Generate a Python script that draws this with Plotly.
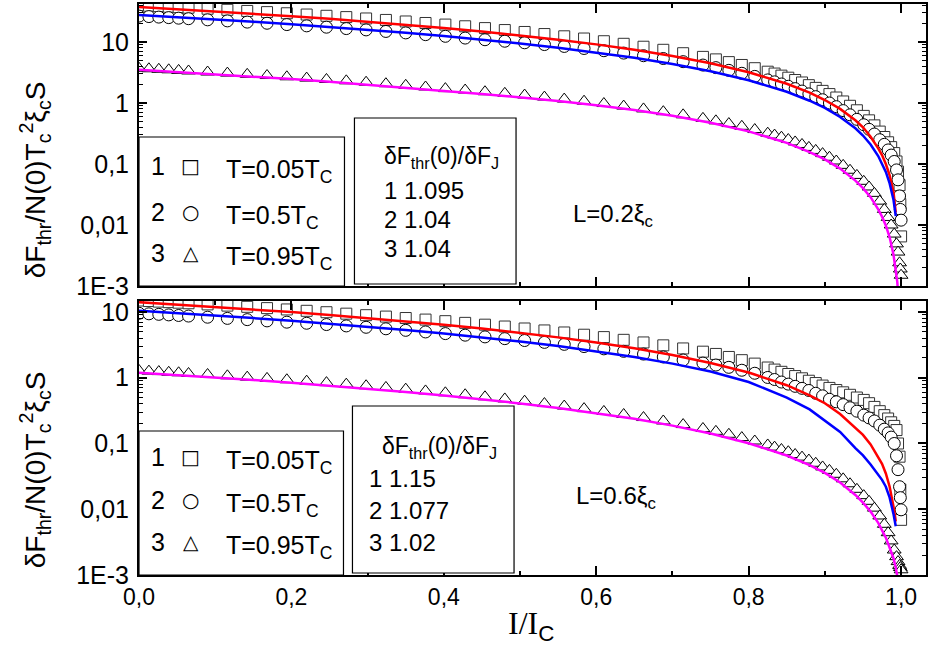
import plotly.graph_objects as go

# ---------------------------------------------------------------------------
# Threshold energy vs. reduced current, two bridge lengths (L = 0.2 and 0.6 xi_c)
# ---------------------------------------------------------------------------

# reduced current I/I_c of the computed points (same grid for all temperatures)
i_pts = [0, 0.013, 0.026, 0.039, 0.052, 0.065,
         0.09, 0.116, 0.142, 0.168, 0.194, 0.22, 0.246, 0.272, 0.298, 0.324,
         0.35, 0.376, 0.402, 0.428, 0.454, 0.48, 0.506, 0.532, 0.558, 0.584,
         0.61, 0.636, 0.662, 0.688, 0.714, 0.74,
         0.757, 0.774, 0.791, 0.808, 0.825,
         0.834, 0.843, 0.852, 0.861, 0.87, 0.879, 0.888, 0.897, 0.906, 0.915,
         0.924, 0.933, 0.942, 0.951, 0.958, 0.965, 0.972, 0.978, 0.983, 0.987,
         0.991, 0.994, 0.996, 0.998, 0.999, 1.0]

# L = 0.2 xi_c : computed threshold energies
sq_top = [40.1, 39.4, 38.7, 37.9, 37.2, 36.5,
          35.1, 33.7, 32.3, 30.9, 29.6, 28.2, 26.9, 25.6, 24.3, 23.0,
          21.7, 20.5, 19.3, 18.1, 16.9, 15.7, 14.6, 13.5, 12.4, 11.4,
          10.3, 9.34, 8.37, 7.45, 6.55, 5.70,
          5.19, 4.68, 4.20, 3.72, 3.26,
          3.04, 2.81, 2.60, 2.38, 2.17, 1.96, 1.77, 1.58, 1.40, 1.23,
          1.06, 0.90, 0.76, 0.615, 0.52, 0.43, 0.34, 0.277, 0.227, 0.189,
          0.151, 0.11, 0.075, 0.045, 0.022, 0.0065]
ci_top = [26.6, 26.1, 25.6, 25.1, 24.6, 24.1,
          23.1, 22.2, 21.2, 20.3, 19.3, 18.4, 17.5, 16.6, 15.8, 14.9,
          14.1, 13.2, 12.4, 11.6, 10.9, 10.3, 9.71, 9.08, 8.46, 7.83,
          7.2, 6.58, 5.96, 5.36, 4.76, 4.19,
          3.80, 3.43, 3.07, 2.73, 2.39,
          2.22, 2.05, 1.88, 1.72, 1.57, 1.41, 1.27, 1.13, 1.00, 0.87,
          0.75, 0.64, 0.54, 0.44, 0.37, 0.31, 0.25, 0.21, 0.17, 0.14,
          0.11, 0.08, 0.055, 0.03, 0.018, 0.012]
tr_top = [3.71, 3.64, 3.57, 3.50, 3.42, 3.35,
          3.22, 3.09, 2.95, 2.82, 2.69, 2.56, 2.43, 2.31, 2.19, 2.07,
          1.95, 1.83, 1.72, 1.63, 1.53, 1.44, 1.35, 1.25, 1.16, 1.07,
          0.98, 0.89, 0.80, 0.72, 0.64, 0.56,
          0.51, 0.46, 0.415, 0.367, 0.32,
          0.298, 0.275, 0.252, 0.23, 0.209, 0.187, 0.167, 0.148, 0.129, 0.112,
          0.095, 0.079, 0.065, 0.052, 0.042, 0.033, 0.0246, 0.018, 0.0133, 0.010,
          0.0071, 0.0049, 0.0036, 0.0024, 0.0019, 0.0015]

# L = 0.6 xi_c : computed threshold energies
sq_bot = [14.95, 14.67, 14.38, 14.11, 13.84, 13.57,
          13.04, 12.50, 11.98, 11.45, 10.93, 10.42, 9.92, 9.43, 8.94, 8.51,
          8.09, 7.66, 7.25, 6.83, 6.41, 6.01, 5.61, 5.24, 4.88, 4.51,
          4.15, 3.77, 3.44, 3.11, 2.79, 2.49,
          2.30, 2.07, 1.85, 1.64, 1.43,
          1.33, 1.23, 1.14, 1.06, 0.98, 0.90, 0.83, 0.76, 0.70, 0.65,
          0.60, 0.55, 0.50, 0.46, 0.41, 0.36, 0.31, 0.27, 0.24, 0.21,
          0.185, 0.16, 0.10, 0.063, 0.02, 0.0069]
ci_bot = [9.57, 9.38, 9.21, 9.03, 8.85, 8.67,
          8.33, 7.99, 7.65, 7.32, 7.0, 6.74, 6.44, 6.14, 5.85, 5.55,
          5.26, 4.97, 4.69, 4.44, 4.18, 3.93, 3.68, 3.45, 3.22, 2.98,
          2.75, 2.52, 2.29, 2.07, 1.86, 1.67,
          1.56, 1.44, 1.30, 1.17, 1.01,
          0.94, 0.86, 0.80, 0.74, 0.69, 0.64, 0.58, 0.53, 0.47, 0.43,
          0.39, 0.35, 0.31, 0.27, 0.245, 0.22, 0.19, 0.165, 0.145, 0.125,
          0.10, 0.065, 0.04, 0.022, 0.015, 0.0098]
tr_bot = [1.29, 1.26, 1.24, 1.21, 1.19, 1.16,
          1.12, 1.07, 1.02, 0.977, 0.932, 0.887, 0.843, 0.798, 0.755, 0.712,
          0.670, 0.630, 0.590, 0.551, 0.513, 0.476, 0.44, 0.405, 0.371, 0.339,
          0.307, 0.276, 0.248, 0.22, 0.194, 0.169,
          0.153, 0.138, 0.123, 0.109, 0.095,
          0.088, 0.081, 0.075, 0.068, 0.062, 0.056, 0.050, 0.044, 0.039, 0.034,
          0.029, 0.0244, 0.0201, 0.0161, 0.0132, 0.0104, 0.0079, 0.0059, 0.0044, 0.0033,
          0.0024, 0.0019, 0.0016, 0.0014, 0.0013, 0.0012]

# Josephson-type reference curves
i_line = [0, 0.05, 0.1, 0.15, 0.2, 0.25, 0.3, 0.35, 0.4, 0.45, 0.5, 0.55, 0.6,
          0.65, 0.7, 0.75, 0.8, 0.85, 0.88, 0.9, 0.92, 0.94, 0.95, 0.96, 0.97,
          0.975, 0.98, 0.985, 0.99, 0.993]
i_line_m = i_line + [0.995, 0.997, 0.999]

red_top = [37.5, 34.6, 31.8, 29.1, 26.5, 24.0, 21.5, 19.2, 17.0, 14.9, 12.8, 10.9,
           9.14, 7.46, 5.90, 4.48, 3.20, 2.07, 1.48, 1.12, 0.80, 0.52, 0.40, 0.28,
           0.18, 0.14, 0.10, 0.065, 0.035, 0.016]
blue_top = [27.7, 25.6, 23.5, 21.5, 19.6, 17.7, 15.9, 14.2, 12.5, 11.0, 9.49, 8.07,
            6.75, 5.51, 4.36, 3.31, 2.36, 1.53, 1.09, 0.83, 0.59, 0.385, 0.293, 0.209,
            0.135, 0.103, 0.074, 0.048, 0.026, 0.014]
mag_top = [3.5, 3.23, 2.97, 2.71, 2.47, 2.24, 2.01, 1.79, 1.58, 1.41, 1.25, 1.08,
           0.92, 0.766, 0.617, 0.476, 0.343, 0.222, 0.157, 0.119, 0.084, 0.0535,
           0.0403, 0.0286, 0.018, 0.0137, 0.0098, 0.0063, 0.0033, 0.0019,
           0.00117, 0.00054, 0.0001]

red_bot = [14.1, 13.0, 11.96, 10.94, 9.95, 9.01, 8.09, 7.22, 6.38, 5.59, 4.83, 4.11,
           3.43, 2.80, 2.22, 1.68, 1.20, 0.77, 0.54, 0.41, 0.28, 0.175, 0.135, 0.097,
           0.063, 0.049, 0.035, 0.022, 0.011, 0.0065]
blue_bot = [10.4, 9.6, 8.82, 8.07, 7.34, 6.64, 5.97, 5.33, 4.71, 4.12, 3.56, 3.03,
            2.53, 2.07, 1.64, 1.24, 0.86, 0.50, 0.33, 0.22, 0.15, 0.085, 0.066, 0.048,
            0.034, 0.028, 0.022, 0.015, 0.0085, 0.0055]
mag_bot = [1.19, 1.10, 1.01, 0.923, 0.84, 0.76, 0.683, 0.609, 0.539, 0.471, 0.407,
           0.347, 0.29, 0.237, 0.187, 0.142, 0.101, 0.0657, 0.0469, 0.0357, 0.0255,
           0.0165, 0.0126, 0.0092, 0.0062, 0.0049, 0.0037, 0.0026, 0.0018, 0.0013,
           0.001, 0.0007, 0.0003]

# legend / table text
temps = ["T=0.05T<sub>C</sub>", "T=0.5T<sub>C</sub>", "T=0.95T<sub>C</sub>"]
symbols = ["\u25a1", "\u25cb", "\u25b3"]
ratio_top = ["1 1.095", "2 1.04", "3 1.04"]
ratio_bot = ["1 1.15", "2 1.077", "3 1.02"]
y_ticks = [1e-3, 1e-2, 1e-1, 1, 10]
y_tick_text = ["1E-3", "0,01", "0,1", "1", "10"]

# ---------------------------------------------------------------------------
W, H = 929, 649
ML, MR, MT, MB = 139, 1, 4, 74
PW, PH = W - ML - MR, H - MT - MB
SANS = "Arial, Liberation Sans, sans-serif"
SERIF = "Times New Roman, Liberation Serif, serif"


def fx(x):
    return (x - ML) / PW


def fy(y):
    return (H - MB - y) / PH


fig = go.Figure()

marker_styles = [
    dict(symbol="square", size=11, color="white", line=dict(color="#333", width=1)),
    dict(symbol="circle", size=12, color="white", line=dict(color="black", width=1)),
    dict(symbol="triangle-up", size=12, color="white", line=dict(color="black", width=1)),
]
line_colors = ["#ff0000", "#0000ff", "#ff00ff"]

panels = [
    ("x", "y", [sq_top, ci_top, tr_top], [(i_line, red_top), (i_line, blue_top), (i_line_m, mag_top)]),
    ("x2", "y2", [sq_bot, ci_bot, tr_bot], [(i_line, red_bot), (i_line, blue_bot), (i_line_m, mag_bot)]),
]
for xa, ya, pts, curves in panels:
    for vals, mk in zip(pts, marker_styles):
        fig.add_trace(go.Scatter(x=i_pts, y=vals, mode="markers", marker=mk,
                                 xaxis=xa, yaxis=ya, showlegend=False))
    for (xs, ys), col in zip(curves, line_colors):
        fig.add_trace(go.Scatter(x=xs, y=ys, mode="lines", line=dict(color=col, width=2.5),
                                 xaxis=xa, yaxis=ya, showlegend=False))

minor_y = [m * 10 ** e for e in range(-3, 2) for m in range(2, 10)]

xbase = dict(range=[0, 1.0327], showline=True, linecolor="black", linewidth=2,
             mirror="ticks", ticks="inside", ticklen=9, tickwidth=1.5, tickcolor="black",
             tick0=0, dtick=0.2, showgrid=False, zeroline=False,
             minor=dict(ticks="inside", ticklen=4, dtick=0.1, tickwidth=1.5,
                        tickcolor="black", showgrid=False))
ybase = dict(type="log", showline=True, linecolor="black", linewidth=2,
             mirror="ticks", ticks="inside", ticklen=8, tickwidth=1.5, tickcolor="black",
             tickvals=y_ticks, ticktext=y_tick_text, showgrid=False, zeroline=False,
             tickfont=dict(family=SANS, size=25, color="black"), ticklabelstandoff=3,
             minor=dict(ticks="inside", ticklen=4, tickvals=minor_y, tickwidth=1.2,
                        tickcolor="black", showgrid=False))

fig.update_layout(
    width=W, height=H, margin=dict(l=ML, r=MR, t=MT, b=MB),
    paper_bgcolor="white", plot_bgcolor="white", showlegend=False, separators=",.",
    xaxis=dict(xbase, anchor="y", showticklabels=False, domain=[0, 1]),
    yaxis=dict(ybase, anchor="x", domain=[fy(286), 1], range=[-3, 1.623]),
    xaxis2=dict(xbase, anchor="y2", domain=[0, 1], tickformat=".1f",
                tickfont=dict(family=SANS, size=23, color="black"), ticklabelstandoff=0),
    yaxis2=dict(ybase, anchor="x2", domain=[0, fy(301)], range=[-3, 1.167]),
)

# framed legend and table boxes
boxes = [(139, 137, 345, 286), (355, 118, 517, 284),
         (139, 431, 344, 575), (353, 406, 515, 573)]
shapes = []
for x0, y0, x1, y1 in boxes:
    shapes.append(dict(type="rect", xref="paper", yref="paper",
                       x0=fx(x0), x1=fx(x1), y0=fy(y1), y1=fy(y0),
                       line=dict(color="black", width=1.2), fillcolor="white",
                       layer="above"))
fig.update_layout(shapes=shapes)

annotations = []


def note(text, x, y, size, xanchor="left", family=SANS, angle=0):
    annotations.append(dict(text=text, x=fx(x), y=fy(y), xref="paper", yref="paper",
                            xanchor=xanchor, yanchor="middle", showarrow=False,
                            textangle=angle, font=dict(family=family, size=size, color="black")))


# temperature legends
for rows_y in ([166, 212, 253], [457, 500, 542]):
    for k, yy in enumerate(rows_y):
        note(str(k + 1), 149, yy, 25)
        note(symbols[k], 191, yy, 20, xanchor="center", family="DejaVu Sans")
        note(temps[k], 224, yy + 5, 25)

# threshold-ratio tables
hdr = "\u03b4F<sub>thr</sub>(0)/\u03b4F<sub>J</sub>"
note(hdr, 383, 157, 23)
for yy, t in zip([190, 220, 248], ratio_top):
    note(t, 383, yy, 24)
note(hdr, 381, 447, 23)
for yy, t in zip([478, 510, 542], ratio_bot):
    note(t, 368, yy, 24)

# bridge lengths
note("L=0.2\u03be<sub>c</sub>", 572, 215, 24)
note("L=0.6\u03be<sub>c</sub>", 575, 498, 24)

# axis titles
ytitle = "\u03b4F<sub>thr</sub>/N(0)T<sub>c</sub><sup>2</sup>\u03be<sub>c</sub>S"
note(ytitle, 35, 180, 28, xanchor="center", angle=-90)
note(ytitle, 35, 470, 28, xanchor="center", angle=-90)
note("I/I<sub><span style=\"font-family:Arial, Liberation Sans\">C</span></sub>",
     532, 625, 32, xanchor="center", family=SERIF)

fig.update_layout(annotations=annotations)
fig.write_html("out.html")
